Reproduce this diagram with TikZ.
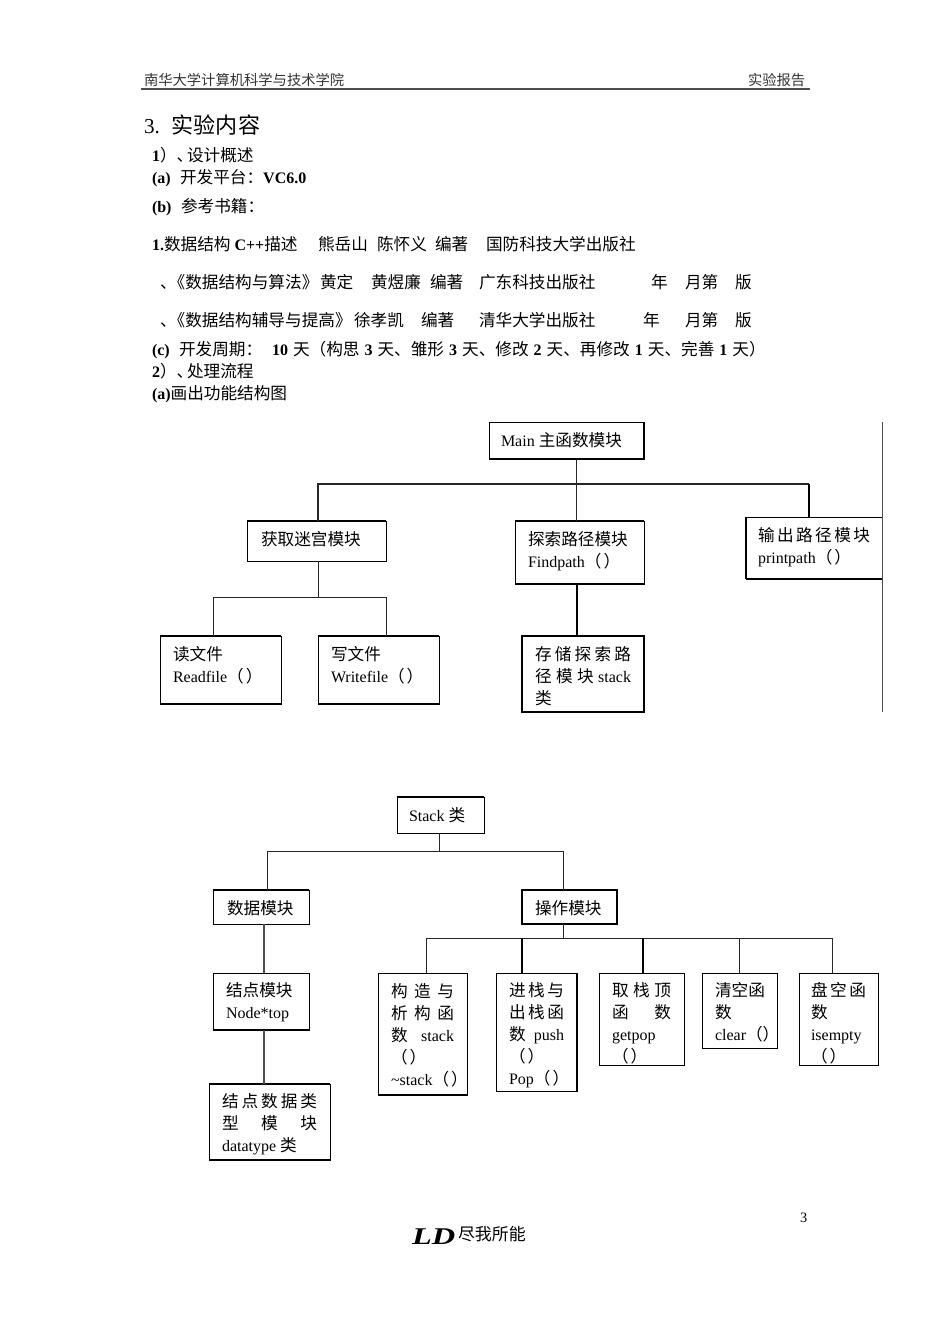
\documentclass[tikz,border=0pt]{standalone}
\usepackage{fontspec}
\setmainfont{Liberation Serif}
\newfontfamily\cjk[Scale=1.04]{Noto Sans CJK SC}
\newcommand{\Z}[1]{{\cjk #1}}
\newcommand{\PP}{\Z{（\kern2pt）}}
\newdimen\lw
\newcommand{\LN}[1]{\leavevmode\hbox to \lw{\rule[-8pt]{0pt}{22pt}#1}\par}
\newcommand{\bx}[9][]{%
  \lw=\dimexpr #5pt-#3pt-2\dimexpr #7pt\relax\relax
  \node[boxnode,#1,anchor=north west] (#2) at (#3,-#4) {%
    \parbox[c][\dimexpr #6pt-#4pt\relax][t]{\dimexpr #5pt-#3pt\relax}{%
      \parindent=0pt \leftskip=#7pt \rightskip=0pt plus 1fil \lineskip=0pt \baselineskip=0pt
      \vspace*{\dimexpr #8pt-#4pt-14pt\relax}#9}};}
\tikzset{
  x=1pt,y=1pt,
  boxnode/.style={draw=black,line width=1pt,inner sep=0pt,outer sep=0pt,font=\fontsize{16}{22}\selectfont},
  heavy/.style={line width=2pt},
  txt/.style={anchor=base west,inner sep=0pt,outer sep=0pt,font=\fontsize{16}{20}\selectfont},
  hdr/.style={txt,font=\fontsize{13.75}{18}\selectfont,text=black!80},
  link/.style={draw=black!85,line width=1pt},
  linkb/.style={draw=black,line width=2pt},
  edge/.style={draw=black,line width=2pt,line cap=square},
}
\newcommand{\topedge}[1]{\draw[edge] (#1.north west) -- (#1.north east);}
\newcommand{\botedge}[1]{\draw[edge] (#1.south west) -- (#1.south east);}
\newcommand{\rgtedge}[1]{\draw[edge] (#1.north east) -- (#1.south east);}
\newcommand{\lftedge}[1]{\draw[edge] (#1.north west) -- (#1.south west);}
\begin{document}
\begin{tikzpicture}
\useasboundingbox (0,0) rectangle (950,-1344);
% header
\node[hdr] (h1) at (144,-85) {\Z{南华大学计算机科学与技术学院}};
\node[hdr] (h2) at (748,-85) {\Z{实验报告}};
\coordinate (rl) at (141,-89); \coordinate (rr) at (810,-89);
\draw[line width=2pt,black!70] (rl) -- (rr);
\node[txt,font=\fontsize{21.2}{26}\selectfont] (s3) at (144,-133) {3.\hspace{12pt}\Z{实验内容}};
% body
\node[txt] (a1) at (152,-161) {\textbf{1}\Z{）、}};
\node[txt] (a1b) at (187,-161) {\Z{设计概述}};
\node[txt] (a2) at (152,-183) {\textbf{(a)}};
\node[txt] (a3) at (180,-183) {\Z{开发平台：}\textbf{VC6.0}};
\node[txt] (a4) at (152,-212) {\textbf{(b)}};
\node[txt] (a5) at (181,-212) {\Z{参考书籍：}};
\node[txt] (b1) at (152,-250) {\textbf{1.}\Z{数据结构} \textbf{C++}\Z{描述}};
\node[txt] (b2) at (318,-250) {\Z{熊岳山}};
\node[txt] (b3) at (377,-250) {\Z{陈怀义}};
\node[txt] (b4) at (435,-250) {\Z{编著}};
\node[txt] (b5) at (486,-250) {\Z{国防科技大学出版社}};
\node[txt] (c1) at (160,-288) {\Z{、\kern-8pt《数据结构与算法》}};
\node[txt] (c2) at (320,-288) {\Z{黄定}};
\node[txt] (c3) at (371,-288) {\Z{黄煜廉}};
\node[txt] (c4) at (430,-288) {\Z{编著}};
\node[txt] (c5) at (479,-288) {\Z{广东科技出版社}};
\node[txt] (c6) at (651,-288) {\Z{年}};
\node[txt] (c7) at (685,-288) {\Z{月第}};
\node[txt] (c8) at (735,-288) {\Z{版}};
\node[txt] (d1) at (160,-326) {\Z{、\kern-8pt《数据结构辅导与提高》}};
\node[txt] (d2) at (354,-326) {\Z{徐孝凯}};
\node[txt] (d3) at (421,-326) {\Z{编著}};
\node[txt] (d4) at (479,-326) {\Z{清华大学出版社}};
\node[txt] (d5) at (643,-326) {\Z{年}};
\node[txt] (d6) at (685,-326) {\Z{月第}};
\node[txt] (d7) at (735,-326) {\Z{版}};
\node[txt] (e1) at (152,-355) {\textbf{(c)}};
\node[txt] (e2) at (179,-355) {\Z{开发周期：}};
\node[txt] (e3) at (272,-355) {\spaceskip=5pt \textbf{10} \Z{天（构思} \textbf{3} \Z{天、雏形} \textbf{3} \Z{天、修改} \textbf{2} \Z{天、再修改} \textbf{1} \Z{天、完善} \textbf{1} \Z{天）}};
\node[txt] (f1) at (152,-377) {\textbf{2}\Z{）、}};
\node[txt] (f1b) at (187,-377) {\Z{处理流程}};
\node[txt] (f2) at (152,-399) {\textbf{(a)}\Z{画出功能结构图}};
% first chart
\bx{main}{489}{422}{644}{459}{12}{446}{\LN{Main \Z{主函数模块}\hfil}}
\bx{maze}{247}{521}{386}{561}{14}{545}{\LN{\Z{获取迷宫模块}\hfil}}
\bx{find}{515}{521}{644}{584}{13}{545}{\LN{\Z{探索路径模块}\hfil}\LN{Findpath\PP\hfil}}
\bx{outp}{746}{517}{882}{579}{12}{541}{\LN{\Z{输}\hfil\Z{出}\hfil\Z{路}\hfil\Z{径}\hfil\Z{模}\hfil\Z{块}}\LN{printpath\PP\hfil}}
\bx{rdf}{160}{636}{281}{704}{13}{660}{\LN{\Z{读文件}\hfil}\LN{Readfile\PP\hfil}}
\bx{wrf}{318}{636}{439}{704}{13}{660}{\LN{\Z{写文件}\hfil}\LN{Writefile\PP\hfil}}
\bx[heavy]{stor}{522}{636}{644}{712}{13}{660}{\LN{\Z{存}\hfil\Z{储}\hfil\Z{探}\hfil\Z{索}\hfil\Z{路}}\LN{\Z{径}\hfil\Z{模}\hfil\Z{块}\hfil stack}\LN{\Z{类}\hfil}}
\topedge{maze} \topedge{find} \botedge{find} \rgtedge{main} \botedge{main} \botedge{outp} \lftedge{outp}
\topedge{rdf} \botedge{rdf} \topedge{wrf} \botedge{wrf}
\coordinate (vt) at (882,-422); \coordinate (vb) at (882,-712);
\draw[line width=1pt,black!70] (vt) -- (vb);
\coordinate (jm) at (576,-484);
\coordinate (jl) at (318,-484);
\coordinate (jr) at (809,-484);
\draw[link] (main.south -| jm) -- (jm);
\draw[link,line width=1.5pt] (jl |- maze.north) -- (jl) -- (jr);
\draw[linkb] (jr) -- (jr |- outp.north);
\draw[link] (jm) -- (jm |- find.north);
\coordinate (kc) at (318,-597);
\coordinate (kl) at (213,-597);
\coordinate (kr) at (386,-597);
\draw[link] (kc |- maze.south) -- (kc);
\draw[link] (kl |- rdf.north) -- (kl) -- (kr) -- (kr |- wrf.north);
\coordinate (fs) at (577,-610);
\draw[linkb] (fs |- find.south) -- (fs |- stor.north);
% second chart
\bx{stck}{397}{797}{484}{833}{12}{821}{\LN{Stack \Z{类}\hfil}}
\bx{datm}{213}{890}{309}{924}{14}{914}{\LN{\Z{数据模块}\hfil}}
\bx[heavy]{opm}{522}{890}{617}{924}{13}{914}{\LN{\Z{操作模块}\hfil}}
\bx{node}{213}{973}{309}{1030}{13}{996}{\LN{\Z{结点模块}\hfil}\LN{Node*top\hfil}}
\bx{dtyp}{209}{1084}{330}{1160}{13}{1107}{\LN{\Z{结}\hfil\Z{点}\hfil\Z{数}\hfil\Z{据}\hfil\Z{类}}\LN{\Z{型}\hfil\Z{模}\hfil\Z{块}}\LN{datatype \Z{类}\hfil}}
\bx{ctor}{378}{973}{467}{1095}{13}{997}{\LN{\Z{构}\hfil\Z{造}\hfil\Z{与}}\LN{\Z{析}\hfil\Z{构}\hfil\Z{函}}\LN{\Z{数}\hfil stack}\LN{\PP\hfil}\LN{\textasciitilde stack\PP\hfil}}
\bx{push}{496}{973}{577}{1091}{13}{996}{\LN{\Z{进}\hfil\Z{栈}\hfil\Z{与}}\LN{\Z{出}\hfil\Z{栈}\hfil\Z{函}}\LN{\Z{数}\hfil push}\LN{\PP\hfil}\LN{Pop\PP\hfil}}
\bx{gtop}{599}{973}{684}{1065}{13}{996}{\LN{\Z{取}\hfil\Z{栈}\hfil\Z{顶}}\LN{\Z{函}\hfil\Z{数}}\LN{getpop\hfil}\LN{\PP\hfil}}
\bx{clr}{702}{973}{777}{1048}{13}{996}{\LN{\Z{清空函}\hfil}\LN{\Z{数}\hfil}\LN{clear\Z{（）}\hfil}}
\bx{emp}{799}{973}{878}{1065}{12}{996}{\LN{\Z{盘}\hfil\Z{空}\hfil\Z{函}}\LN{\Z{数}\hfil}\LN{isempty\hfil}\LN{\PP\hfil}}
\topedge{stck} \topedge{datm} \topedge{dtyp} \botedge{dtyp} \botedge{node} \rgtedge{push} \botedge{ctor}
\coordinate (ms) at (439,-851);
\coordinate (ml) at (267,-851);
\coordinate (mr) at (563,-851);
\draw[link] (stck.south -| ms) -- (ms);
\draw[link] (ml |- datm.north) -- (ml) -- (mr) -- (mr |- opm.north);
\coordinate (nx) at (264,-950);
\draw[link,line width=1.5pt,black!70] (nx |- datm.south) -- (nx |- node.north);
\draw[link,line width=1.5pt,black!70] (nx |- node.south) -- (nx |- dtyp.north);
\coordinate (oj) at (563,-938);
\coordinate (o1) at (426,-938);
\coordinate (o2) at (522,-938);
\coordinate (o3) at (643,-938);
\coordinate (o4) at (739,-938);
\coordinate (o5) at (832,-938);
\draw[link] (oj |- opm.south) -- (oj);
\draw[link] (o1 |- ctor.north) -- (o1) -- (o5) -- (o5 |- emp.north);
\draw[linkb] (o2) -- (o2 |- push.north);
\draw[linkb] (o3) -- (o3 |- gtop.north);
\draw[link] (o4) -- (o4 |- clr.north);
% footer
\node[hdr,text=black,font=\fontsize{14.3}{18}\selectfont] (pg) at (800,-1222) {3};
\node[txt,font=\fontsize{24}{26}\selectfont\bfseries\itshape,xscale=1.35,transform shape] (ld) at (412,-1244) {LD};
\node[txt,font=\fontsize{16.3}{20}\selectfont] (sl) at (458,-1240) {\Z{尽我所能}};
\end{tikzpicture}
\end{document}
